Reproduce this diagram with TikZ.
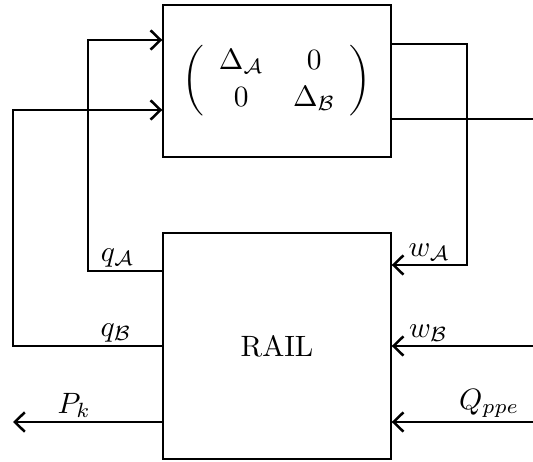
\documentclass[tikz,border=0pt]{standalone}
\usepackage{amsmath,amssymb}
\usetikzlibrary{arrows.meta}

\begin{document}
\begin{tikzpicture}[x=0.34pt,y=-0.34pt]
  \tikzset{blk/.style={draw,line width=0.5pt,minimum width=77.5pt,inner sep=0pt},
    sig/.style={line width=0.85pt},
    sigin/.style={sig,-{Straight Barb[length=3.4pt,width=6.6pt]}},
    lbl/.style={above,inner sep=1pt}}
  \useasboundingbox (0,0) rectangle (533,462);
  % --- blocks ---
  \node[blk,minimum height=51.7pt] (delta) at (277,81)
    {$\left(\begin{array}{cc}\Delta_{\mathcal{A}} & 0\\[0.6pt] 0 & \Delta_{\mathcal{B}}\end{array}\right)$};
  \node[blk,minimum height=76.8pt] (rail) at (277,346) {RAIL};
  % free ends at the picture's border
  \coordinate (rim) at (533,0);
  \coordinate (pkend) at (13,422);
  % --- uncertainty outputs ---
  \draw[sigin] (delta.east |- 0,44) -| (467,265)
    -- node[lbl]{$w_{\mathcal{A}}$} (rail.east |- 0,265);
  \draw[sig] (delta.east |- 0,119) -- (rim |- 0,119);
  % --- feedback to the uncertainty block ---
  \draw[sigin] (rail.west |- 0,271) -- node[lbl,pos=0.6]{$q_{\mathcal{A}}$} (88,271)
    |- (delta.west |- 0,40);
  \draw[sigin] (rail.west |- 0,346) -- node[lbl,pos=0.31]{$q_{\mathcal{B}}$} (13,346)
    |- (delta.west |- 0,110);
  % --- external inputs and output ---
  \draw[sigin] (rim |- 0,346) -- node[lbl,pos=0.74]{$w_{\mathcal{B}}$} (rail.east |- 0,346);
  \draw[sigin] (rim |- 0,422) -- node[lbl,pos=0.31]{$Q_{ppe}$} (rail.east |- 0,422);
  \draw[sigin] (rail.west |- 0,422) -- node[lbl,pos=0.59]{$P_k$} (pkend);
\end{tikzpicture}
\end{document}
